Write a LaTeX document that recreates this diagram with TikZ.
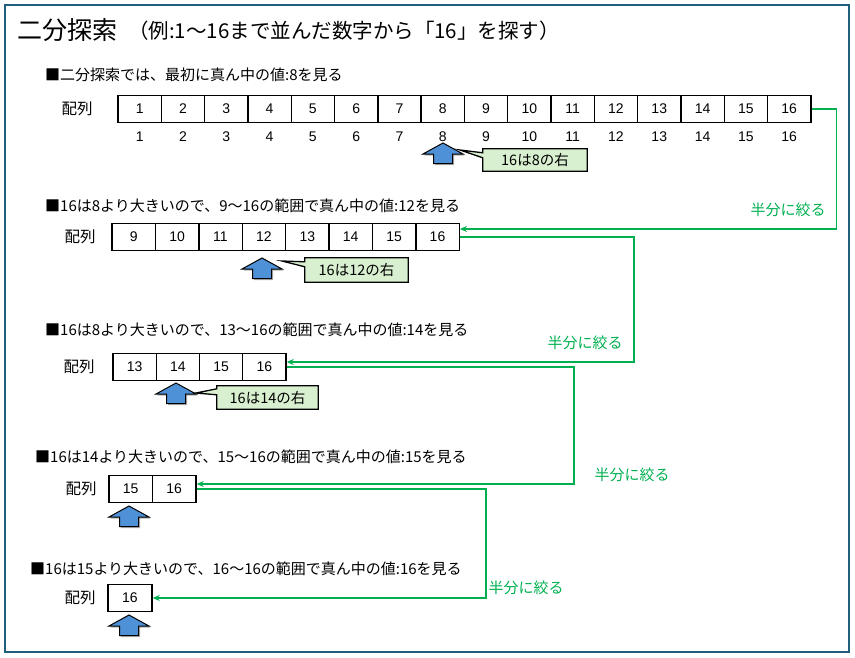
\documentclass[tikz,border=0pt]{standalone}
\usepackage{fontspec}
\setmainfont{Noto Sans CJK JP}
\newfontfamily\numfont{Liberation Sans}
\usetikzlibrary{arrows.meta,calc,backgrounds}
\definecolor{framecol}{RGB}{31,95,125}
\definecolor{grn}{RGB}{0,176,80}
\definecolor{callfill}{RGB}{217,240,208}
\definecolor{arrblue}{RGB}{79,145,214}
\begin{document}
\begin{tikzpicture}[x=1pt,y=-1pt,
  cell/.style={draw,line width=1.4pt,minimum height=27pt,inner sep=0pt,font=\numfont\fontsize{14}{16}\selectfont},
  idx/.style={inner sep=0pt,font=\numfont\fontsize{14}{16}\selectfont},
  head/.style={anchor=west,inner sep=0pt,font=\fontsize{15}{18}\selectfont},
  lbl/.style={inner sep=0pt,font=\fontsize{15.5}{18}\selectfont},
  conn/.style={draw=grn,line width=1.5pt,-{Stealth[length=7pt,width=6pt]}},
  half/.style={text=grn,inner sep=0pt,font=\fontsize{15}{17}\selectfont},
  calltext/.style={inner sep=0pt,font=\fontsize{14.5}{16}\selectfont},
  callbox/.style={fill=callfill,draw=black,line width=1.3pt,line join=miter},
  uparrow/.pic={
    \fill[black!30] (1.5,1.5) -- (21.5,12.5) -- (11,12.5) -- (11,22) -- (-8,22) -- (-8,12.5) -- (-18.5,12.5) -- cycle;
    \filldraw[fill=arrblue,draw=black,line width=1pt,line join=miter] (0,0) -- (20,11) -- (9.5,11) -- (9.5,20.5) -- (-9.5,20.5) -- (-9.5,11) -- (-20,11) -- cycle;
  }
]
\useasboundingbox (0,0) rectangle (855,657);
\draw[framecol,line width=2.2pt] (5,5) rectangle (849,652);

% title
\node[anchor=west,inner sep=0pt,font=\fontsize{25}{28}\selectfont] (title) at (17,30) {二分探索};
\node[anchor=west,inner sep=0pt,font=\fontsize{20.5}{24}\selectfont] (subtitle) at (128,31) {（例:1〜16まで並んだ数字から「16」を探す）};

% ---------- row 1
\node[head] (h1) at (45,75) {■二分探索では、最初に真ん中の値:8を見る};
\node[lbl] (l1) at (77,109) {配列};
\foreach \i in {1,...,16}{
  \node[cell,minimum width=43.3pt] (a\i) at ({118+(\i-0.5)*43.3},109) {\i};
  \node[idx] (ai\i) at ({118+(\i-0.5)*43.3},137) {\i};
}
\pic (up1) at (443,143) {uparrow};
\node[calltext,minimum width=104pt,minimum height=22pt] (c1) at (535,160) {16は8の右};
\begin{scope}[on background layer]
\path[callbox] (c1.north west) -- (c1.north east) -- (c1.south east) -- (c1.south west)
  -- ([yshift=-9pt]c1.north west) -- (460,150) -- ([yshift=-4pt]c1.north west) -- cycle;
\end{scope}

% ---------- row 2
\node[head] (h2) at (45,206) {■16は8より大きいので、9〜16の範囲で真ん中の値:12を見る};
\node[lbl] (l2) at (80,237) {配列};
\foreach \v [count=\i] in {9,...,16}{
  \node[cell,minimum width=43.4pt] (b\i) at ({112+(\i-0.5)*43.4},237) {\v};
}
\pic (up2) at (262,258) {uparrow};
\node[calltext,minimum width=103pt,minimum height=24pt] (c2) at (356.5,270) {16は12の右};
\begin{scope}[on background layer]
\path[callbox] (c2.north west) -- (c2.north east) -- (c2.south east) -- (c2.south west)
  -- ([yshift=-9pt]c2.north west) -- (282,261) -- ([yshift=-4pt]c2.north west) -- cycle;
\end{scope}

% ---------- row 3
\node[head] (h3) at (45,330) {■16は8より大きいので、13〜16の範囲で真ん中の値:14を見る};
\node[lbl] (l3) at (79,367) {配列};
\foreach \v [count=\i] in {13,...,16}{
  \node[cell,minimum width=43.25pt] (c\i) at ({113+(\i-0.5)*43.25},367) {\v};
}
\pic (up3) at (176,383) {uparrow};
\node[calltext,minimum width=101pt,minimum height=23pt] (c3) at (267.5,397.5) {16は14の右};
\begin{scope}[on background layer]
\path[callbox] (c3.north west) -- (c3.north east) -- (c3.south east) -- (c3.south west)
  -- ([yshift=-9pt]c3.north west) -- (196,393) -- ([yshift=-3pt]c3.north west) -- cycle;
\end{scope}

% ---------- row 4
\node[head] (h4) at (35,457) {■16は14より大きいので、15〜16の範囲で真ん中の値:15を見る};
\node[lbl] (l4) at (81,489) {配列};
\foreach \v [count=\i] in {15,16}{
  \node[cell,minimum width=43.5pt] (d\i) at ({109+(\i-0.5)*43.5},489) {\v};
}
\pic (up4) at (129,506) {uparrow};

% ---------- row 5
\node[head] (h5) at (30,569) {■16は15より大きいので、16〜16の範囲で真ん中の値:16を見る};
\node[lbl] (l5) at (80,598) {配列};
\node[cell,minimum width=44pt] (e1) at (130,598) {16};
\pic (up5) at (129,615) {uparrow};

% ---------- connectors
\coordinate (b8in) at ([yshift=8pt]b8.east);
\coordinate (c4in) at ([yshift=5pt]c4.east);
\coordinate (d2in) at ([yshift=5pt]d2.east);
\draw[conn] (a16.east) -- ++(25,0) |- (b8in);
\draw[conn] (b8.east) -- ++(174,0) |- (c4in);
\draw[conn] (c4.east) -- ++(287.5,0) |- (d2in);
\draw[conn] (d2.east) -- ++(289.5,0) |- (e1.east);

\node[half] (k1) at (788,210) {半分に絞る};
\node[half] (k2) at (585,343) {半分に絞る};
\node[half] (k3) at (632,475) {半分に絞る};
\node[half] (k4) at (526,588) {半分に絞る};
\end{tikzpicture}
\end{document}
